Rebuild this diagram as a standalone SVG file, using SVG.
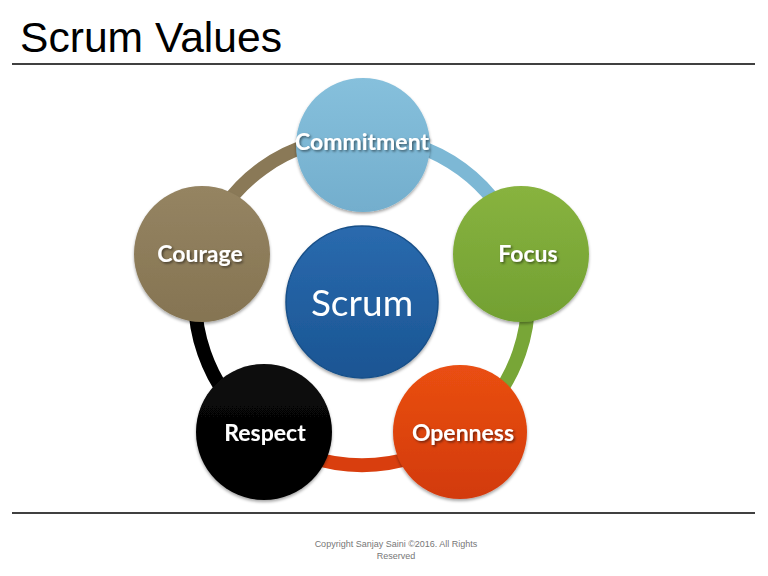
<svg xmlns="http://www.w3.org/2000/svg" width="768" height="576" viewBox="0 0 768 576">
<style>
.title{font-family:"Liberation Sans",Arial,sans-serif;font-size:43px;fill:#000}
.rule{stroke:#000;stroke-width:1.3}
.lbl{font-family:Lato,"Open Sans",sans-serif;font-weight:bold;font-size:23px;fill:#fff;text-anchor:middle;filter:url(#ts)}
.ctr{font-family:Lato,"Open Sans",sans-serif;font-size:37px;fill:#fff;text-anchor:middle}
.ring{fill:none;stroke-width:14}
.foot{font-family:"Liberation Sans",Arial,sans-serif;font-size:9px;fill:#777;text-anchor:middle}
.node{filter:url(#ds)}
</style>
<defs>
<filter id="ts" x="-20%" y="-40%" width="140%" height="180%">
<feDropShadow dx="1.5" dy="1.5" stdDeviation="1" flood-color="#000" flood-opacity="0.5"/>
</filter>
<filter id="ds" x="-20%" y="-20%" width="140%" height="140%">
<feDropShadow dx="0" dy="2" stdDeviation="1.5" flood-color="#000" flood-opacity="0.35"/>
</filter>
<linearGradient id="gBlue" x1="0" y1="0" x2="0" y2="1"><stop offset="0" stop-color="#86C0DC"/><stop offset="1" stop-color="#73AECD"/></linearGradient>
<linearGradient id="gGreen" x1="0" y1="0" x2="0" y2="1"><stop offset="0" stop-color="#88B33F"/><stop offset="1" stop-color="#72A032"/></linearGradient>
<linearGradient id="gOrange" x1="0" y1="0" x2="0" y2="1"><stop offset="0" stop-color="#EA4F12"/><stop offset="1" stop-color="#D23A0C"/></linearGradient>
<linearGradient id="gBlack" x1="0" y1="0" x2="0" y2="1"><stop offset="0" stop-color="#0A0A0A"/><stop offset="1" stop-color="#000"/></linearGradient>
<linearGradient id="gBrown" x1="0" y1="0" x2="0" y2="1"><stop offset="0" stop-color="#958462"/><stop offset="1" stop-color="#857452"/></linearGradient>
<linearGradient id="gScrum" x1="0" y1="0" x2="0" y2="1"><stop offset="0" stop-color="#2A6AAE"/><stop offset="1" stop-color="#1A5593"/></linearGradient>
</defs>
<rect width="768" height="576" fill="#fff"/>
<text class="title" x="20" y="52" textLength="262" lengthAdjust="spacingAndGlyphs">Scrum Values</text>
<line class="rule" x1="12" y1="64" x2="755" y2="64"/>
<line class="rule" x1="12" y1="513" x2="755" y2="513"/>
<g id="connectors">
<path class="ring" stroke="#7DB8D5" d="M363 138 A161 161 0 0 1 521 254"/>
<path class="ring" stroke="#78A637" d="M521 254 A161 161 0 0 1 460 432"/>
<path class="ring" stroke="#D93E0E" d="M460 432 A161 161 0 0 1 264 432"/>
<path class="ring" stroke="#000" d="M264 432 A161 161 0 0 1 202 254"/>
<path class="ring" stroke="#8A7957" d="M202 254 A161 161 0 0 1 363 138"/>
</g>
<g id="commitment" class="node"><circle cx="363" cy="145" r="67" fill="url(#gBlue)"/><text class="lbl" x="362" y="150">Commitment</text></g>
<g id="focus" class="node"><circle cx="521" cy="254" r="68" fill="url(#gGreen)"/><text class="lbl" x="528" y="262">Focus</text></g>
<g id="openness" class="node"><circle cx="460" cy="432" r="67" fill="url(#gOrange)"/><text class="lbl" x="463" y="441">Openness</text></g>
<g id="respect" class="node"><circle cx="264" cy="432" r="68" fill="url(#gBlack)"/><text class="lbl" x="265" y="441">Respect</text></g>
<g id="courage" class="node"><circle cx="202" cy="254" r="68" fill="url(#gBrown)"/><text class="lbl" x="200" y="262">Courage</text></g>
<g id="scrum" class="node"><circle cx="362" cy="302" r="76" fill="url(#gScrum)" stroke="#184F88" stroke-width="1.5"/><text class="ctr" x="362" y="316">Scrum</text></g>
<text class="foot" x="396" y="547">Copyright Sanjay Saini ©2016. All Rights</text>
<text class="foot" x="396" y="559">Reserved</text>
</svg>
